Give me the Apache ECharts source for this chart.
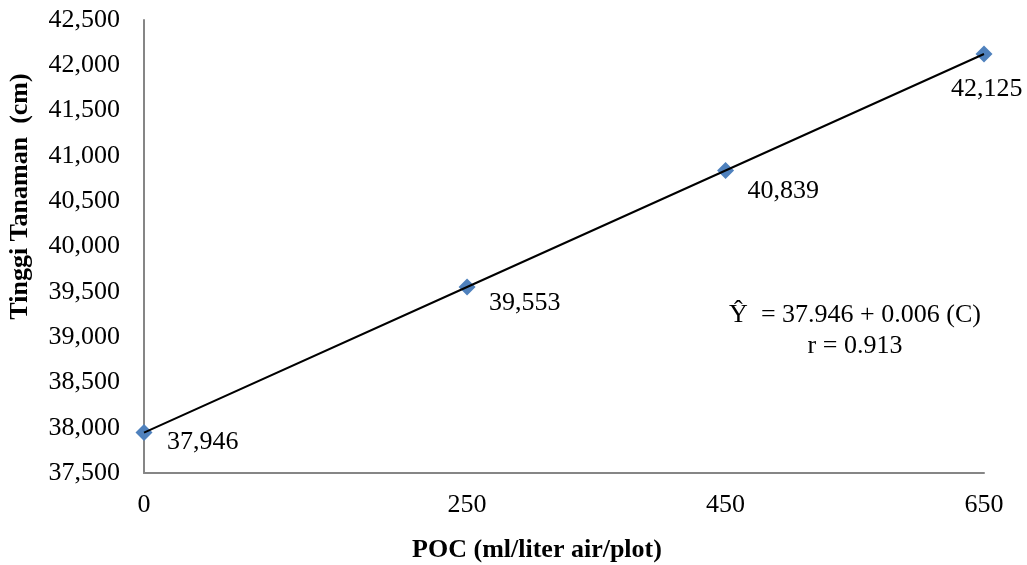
<!DOCTYPE html>
<html>
<head>
<meta charset="utf-8">
<script src="https://cdn.jsdelivr.net/npm/echarts@6/dist/echarts.min.js"></script>
<style>
html,body{margin:0;padding:0;background:#fff;}
#chart{width:1027px;height:565px;}
</style>
</head>
<body>
<div id="chart"></div>
<script>
// Data
var doseValues = [0, 250, 450, 650];
var heightCm = [37946, 39553, 40839, 42125];
var xTickLabels = [0, 250, 450, 650];
var yMin = 37500, yMax = 42500, yStep = 500;
var equationLines = ['\u0176  = 37.946 + 0.006 (C)', 'r = 0.913'];

// Label layout (styling only)
var labelOffsets = [[23, 10], [22, 16], [22, 21], [-33, 35]];

var FONT = '"Liberation Serif", "Times New Roman", serif';

function fmt(v) {
  return String(v).replace(/\B(?=(\d{3})+(?!\d))/g, ',');
}

var scatterData = doseValues.map(function (x, i) {
  return {
    value: [x, heightCm[i]],
    label: {
      show: true,
      position: 'inside',
      align: 'left',
      verticalAlign: 'middle',
      offset: labelOffsets[i],
      formatter: fmt(heightCm[i]),
      color: '#000',
      opacity: 1,
      fontFamily: FONT,
      fontSize: 26
    }
  };
});

var lineData = doseValues.map(function (x, i) { return [x, heightCm[i]]; });

var chart = echarts.init(document.getElementById('chart'), null, {renderer: 'canvas'});
chart.setOption({
  animation: false,
  backgroundColor: '#fff',
  grid: {left: 144, right: 43, top: 20, bottom: 92, containLabel: false, outerBoundsMode: 'none'},
  xAxis: {
    type: 'value',
    min: 0,
    max: 650,
    name: 'POC (ml/liter air/plot)',
    nameLocation: 'middle',
    nameGap: 64,
    nameTextStyle: {fontFamily: FONT, fontSize: 26, fontWeight: 'bold', color: '#000', padding: [0, 54, 0, 0]},
    axisLine: {show: true, lineStyle: {color: '#868686', width: 2}},
    axisTick: {show: false},
    splitLine: {show: false},
    axisLabel: {
      customValues: xTickLabels,
      margin: 19,
      fontFamily: FONT,
      fontSize: 26,
      color: '#000'
    }
  },
  yAxis: {
    type: 'value',
    min: yMin,
    max: yMax,
    interval: yStep,
    name: 'Tinggi Tanaman  (cm)',
    nameLocation: 'middle',
    nameGap: 111,
    nameTextStyle: {fontFamily: FONT, fontSize: 26, fontWeight: 'bold', color: '#000', padding: [0, 0, 0, 100]},
    axisLine: {show: true, lineStyle: {color: '#868686', width: 2}},
    axisTick: {show: false},
    splitLine: {show: false},
    axisLabel: {
      margin: 24,
      fontFamily: FONT,
      fontSize: 26,
      color: '#000',
      formatter: function (v) { return fmt(v); }
    }
  },
  series: [
    {
      type: 'scatter',
      symbol: 'diamond',
      symbolSize: 17,
      itemStyle: {color: '#4F81BD', opacity: 1},
      data: scatterData,
      z: 2
    },
    {
      type: 'line',
      data: lineData,
      showSymbol: false,
      symbol: 'none',
      lineStyle: {color: '#000', width: 2},
      z: 3,
      silent: true
    }
  ],
  graphic: [
    {
      type: 'text',
      style: {
        text: equationLines[0],
        x: 855, y: 315,
        align: 'center', verticalAlign: 'middle',
        fontFamily: FONT, fontSize: 26, fill: '#000'
      }
    },
    {
      type: 'text',
      style: {
        text: equationLines[1],
        x: 855, y: 346,
        align: 'center', verticalAlign: 'middle',
        fontFamily: FONT, fontSize: 26, fill: '#000'
      }
    }
  ]
});
</script>
</body>
</html>
